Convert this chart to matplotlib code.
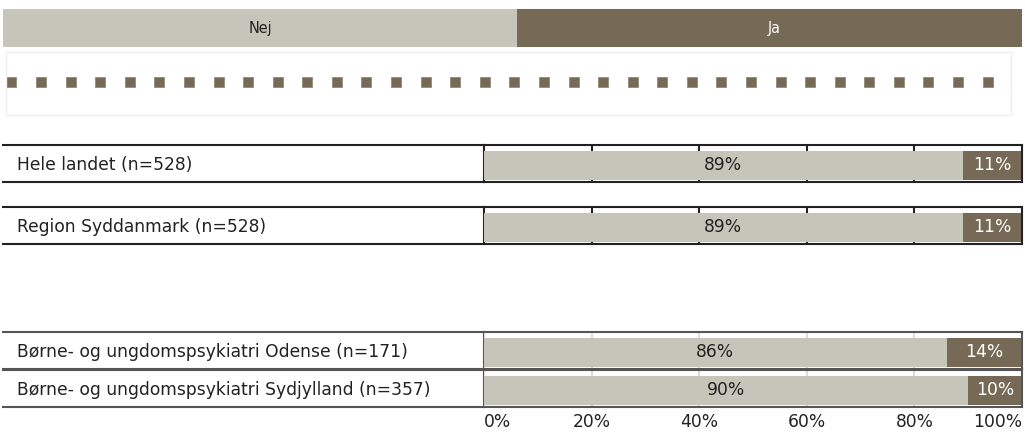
import numpy as np
import matplotlib
matplotlib.use('Agg')
import matplotlib.pyplot as plt

# data
categories = ['Nej', 'Ja']
labels = ['Hele landet (n=528)',
          'Region Syddanmark (n=528)',
          'Børne- og ungdomspsykiatri Odense (n=171)',
          'Børne- og ungdomspsykiatri Sydjylland (n=357)']
nej = [89, 89, 86, 90]
ja = [11, 11, 14, 10]
ticks = [0, 20, 40, 60, 80, 100]

c_nej = '#c5c6b9'
c_ja = '#766a56'
fs = 12.3

W, H = 1025, 440
plt.rcParams['font.family'] = ['DejaVu Sans']
fig = plt.figure(figsize=(W / 100, H / 100), dpi=100)


def box(x0, y0, x1, y1):
    # pixel box (from top left) -> figure coords
    return [x0 / W, 1 - y1 / H, (x1 - x0) / W, (y1 - y0) / H]


# header legend
ax = fig.add_axes(box(3, 9, 1022, 47))
for i, cat in enumerate(categories):
    ax.barh(0, 1, left=i, height=1, color=[c_nej, c_ja][i])
    ax.text(i + 0.5, 0, cat, ha='center', va='center', fontsize=11.5,
            color=['#222222', 'white'][i], fontstretch='condensed')
ax.set_xlim(0, 1.982)
ax.set_ylim(-0.5, 0.5)
ax.axis('off')

# dotted decoration in faint box
ax = fig.add_axes(box(6, 52, 1011, 115))
n_dots = 34
ax.plot(np.arange(n_dots), np.zeros(n_dots), 's', ms=6.8, color=c_ja,
        mec='#8a806e', mew=0.5)
ax.set_xlim(-0.185, 33.79)
ax.set_ylim(-1.1, 1.0)
ax.set_xticks([])
ax.set_yticks([])
for s in ax.spines.values():
    s.set_color('#efefef')
    s.set_linewidth(1)

# rows
row_tops = [145, 207, 332, 370]
row_h = 37
line_c = ['#222222', '#222222', '#555555', '#555555']
grid_c = ['#222222', '#222222', '#dcdcdc', '#dcdcdc']

for i, lab in enumerate(labels):
    top = row_tops[i]
    # label cell
    axl = fig.add_axes(box(3, top, 484, top + row_h))
    axl.set_xlim(0, 1)
    axl.set_ylim(-0.57, 0.71)
    axl.set_xticks([])
    axl.set_yticks([])
    axl.spines['left'].set_visible(False)
    for s in ['top', 'bottom', 'right']:
        axl.spines[s].set_color(line_c[i])
        axl.spines[s].set_linewidth(1.5)
    axl.text(0.029, 0.02, lab, ha='left', va='center', fontsize=fs,
             color='#222222')

    # bar cell
    axb = fig.add_axes(box(484, top, 1022, top + row_h))
    axb.barh(0, nej[i], height=1, color=c_nej)
    axb.barh(0, ja[i], left=nej[i], height=1, color=c_ja)
    axb.text(nej[i] / 2, 0.02, f'{nej[i]}%', ha='center', va='center',
             fontsize=fs, color='#222222')
    axb.text(nej[i] + ja[i] / 2, 0.02, f'{ja[i]}%', ha='center', va='center',
             fontsize=fs, color='white')
    axb.set_xlim(0, 100)
    axb.set_ylim(-0.57, 0.71)
    axb.set_yticks([])
    axb.set_xticks(ticks)
    axb.set_axisbelow(True)
    axb.grid(axis='x', color=grid_c[i], lw=1.5)
    axb.spines['left'].set_visible(False)
    for s in ['top', 'bottom', 'right']:
        axb.spines[s].set_color(line_c[i])
        axb.spines[s].set_linewidth(1.5)
    if i == len(labels) - 1:
        axb.set_xticklabels([f'{t}%' for t in ticks], fontsize=fs,
                            color='#222222')
        axb.tick_params(axis='x', length=0, pad=4)
        tl = axb.get_xticklabels()
        tl[0].set_ha('left')
        tl[-1].set_ha('right')
    else:
        axb.tick_params(axis='x', length=0, labelbottom=False)

fig.savefig('out.png', dpi=100)
